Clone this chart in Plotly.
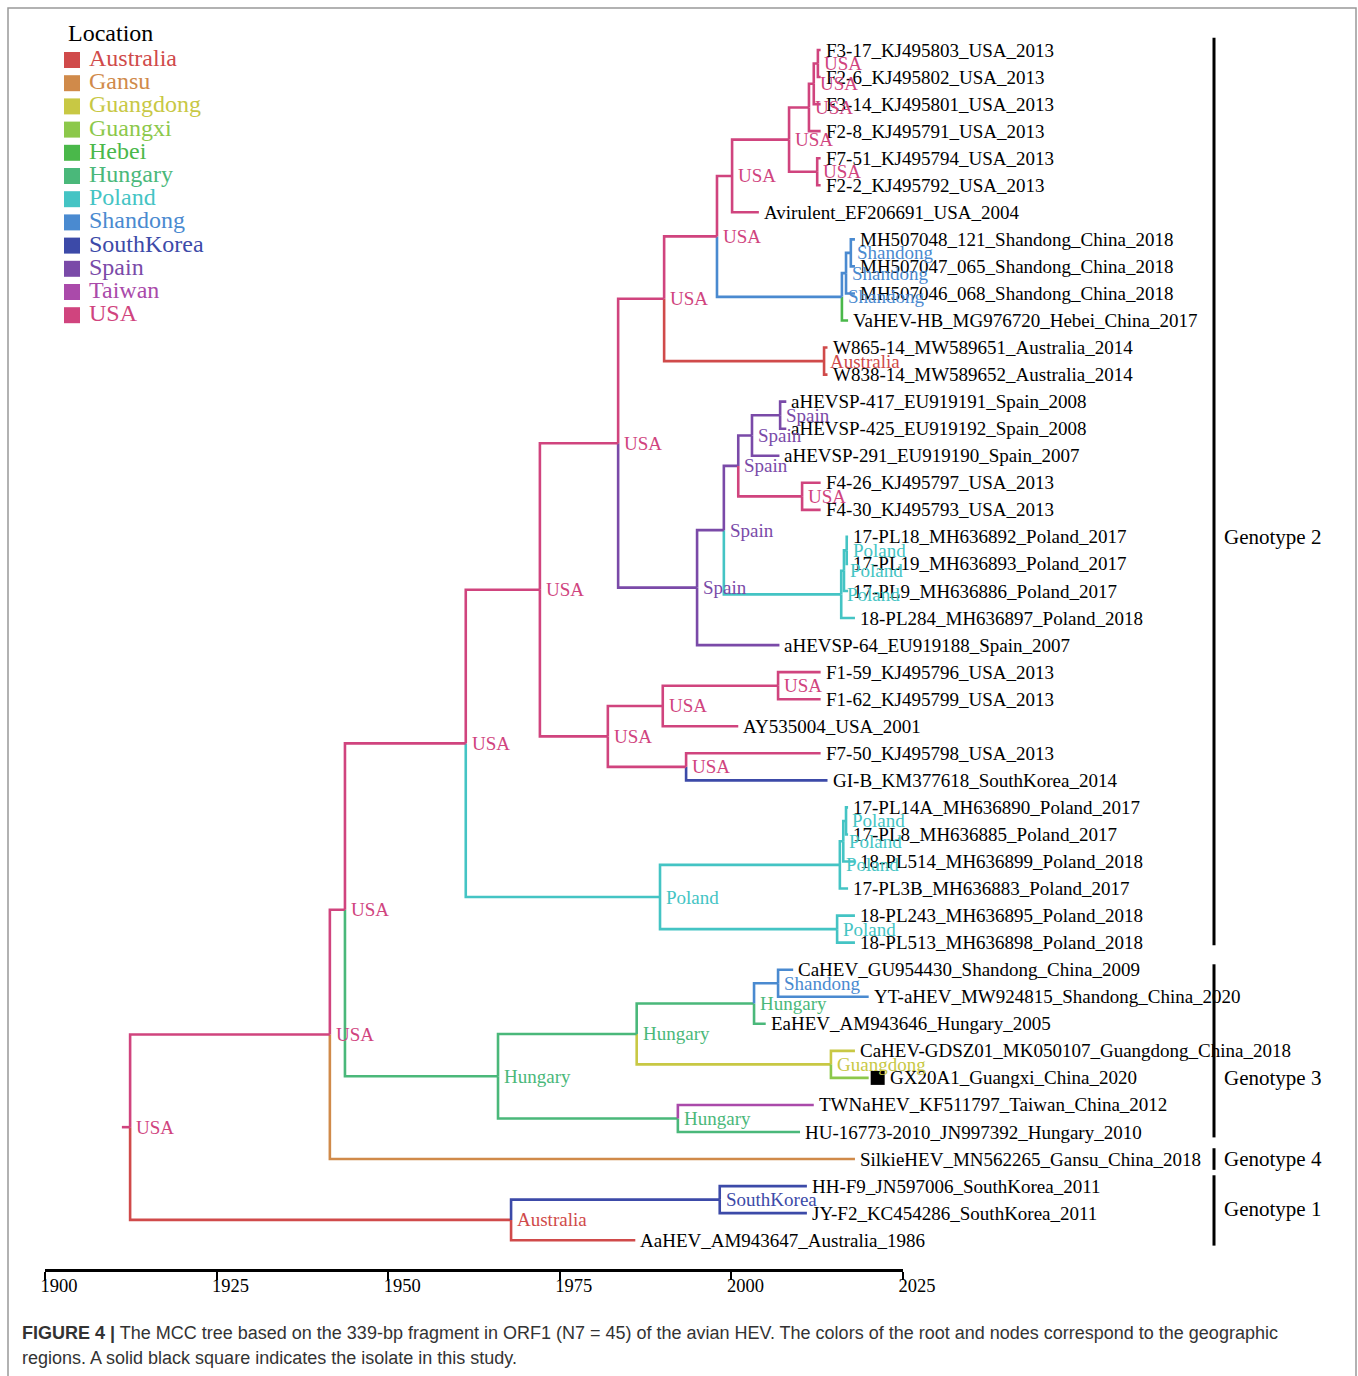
import plotly.graph_objects as go

W, H = 1358, 1376

# ---------------- data ----------------
locations = ["Australia", "Gansu", "Guangdong", "Guangxi", "Hebei", "Hungary",
             "Poland", "Shandong", "SouthKorea", "Spain", "Taiwan", "USA"]
location_colors = ["#d04a4a", "#d08a4a", "#c8c844", "#8cc84a", "#4ab84a", "#4ab87a",
                   "#44c4c4", "#4a8ad0", "#3c4aa8", "#7a4aa8", "#aa4aaa", "#d0447e"]

leaf_names = [
    "F3-17_KJ495803_USA_2013", "F2-6_KJ495802_USA_2013", "F3-14_KJ495801_USA_2013",
    "F2-8_KJ495791_USA_2013", "F7-51_KJ495794_USA_2013", "F2-2_KJ495792_USA_2013",
    "Avirulent_EF206691_USA_2004", "MH507048_121_Shandong_China_2018",
    "MH507047_065_Shandong_China_2018", "MH507046_068_Shandong_China_2018",
    "VaHEV-HB_MG976720_Hebei_China_2017", "W865-14_MW589651_Australia_2014",
    "W838-14_MW589652_Australia_2014", "aHEVSP-417_EU919191_Spain_2008",
    "aHEVSP-425_EU919192_Spain_2008", "aHEVSP-291_EU919190_Spain_2007",
    "F4-26_KJ495797_USA_2013", "F4-30_KJ495793_USA_2013",
    "17-PL18_MH636892_Poland_2017", "17-PL19_MH636893_Poland_2017",
    "17-PL9_MH636886_Poland_2017", "18-PL284_MH636897_Poland_2018",
    "aHEVSP-64_EU919188_Spain_2007", "F1-59_KJ495796_USA_2013", "F1-62_KJ495799_USA_2013",
    "AY535004_USA_2001", "F7-50_KJ495798_USA_2013", "GI-B_KM377618_SouthKorea_2014",
    "17-PL14A_MH636890_Poland_2017", "17-PL8_MH636885_Poland_2017",
    "18-PL514_MH636899_Poland_2018", "17-PL3B_MH636883_Poland_2017",
    "18-PL243_MH636895_Poland_2018", "18-PL513_MH636898_Poland_2018",
    "CaHEV_GU954430_Shandong_China_2009", "YT-aHEV_MW924815_Shandong_China_2020",
    "EaHEV_AM943646_Hungary_2005", "CaHEV-GDSZ01_MK050107_Guangdong_China_2018",
    "GX20A1_Guangxi_China_2020", "TWNaHEV_KF511797_Taiwan_China_2012",
    "HU-16773-2010_JN997392_Hungary_2010", "SilkieHEV_MN562265_Gansu_China_2018",
    "HH-F9_JN597006_SouthKorea_2011", "JY-F2_KC454286_SouthKorea_2011",
    "AaHEV_AM943647_Australia_1986"]
leaf_years = [2013, 2013, 2013, 2013, 2013, 2013, 2004, 2018, 2018, 2018, 2017, 2014, 2014,
              2008, 2008, 2007, 2013, 2013, 2017, 2017, 2017, 2018, 2007, 2013, 2013, 2001,
              2013, 2014, 2017, 2017, 2018, 2017, 2018, 2018, 2009, 2020, 2005, 2018, 2020,
              2012, 2010, 2018, 2011, 2011, 1986]
leaf_locs = ["USA"] * 7 + ["Shandong"] * 3 + ["Hebei"] + ["Australia"] * 2 + ["Spain"] * 3 + \
            ["USA"] * 2 + ["Poland"] * 4 + ["Spain"] + ["USA"] * 4 + ["SouthKorea"] + \
            ["Poland"] * 6 + ["Shandong"] * 2 + ["Hungary", "Guangdong", "Guangxi", "Taiwan",
                                                 "Hungary", "Gansu", "SouthKorea", "SouthKorea",
                                                 "Australia"]
leaf_parents = ["N01", "N01", "N012", "N0123", "K", "K", "H2", "Sh3", "Sh3", "Sh2", "Sh",
                "Aus2", "Aus2", "S4", "S4", "S3", "U2", "U2", "PL3", "PL3", "PL2", "PL1", "S",
                "U1a", "U1a", "U1", "U3", "U3", "P1b", "P1b", "P1a", "P1", "P2", "P2", "Sd",
                "Sd", "Hb", "Gd", "Gd", "H5", "H5", "A", "SK", "SK", "G1"]

node_ids = ["root", "A", "G1", "SK", "B", "C", "H", "H1", "H5", "Hb", "Sd", "Gd", "D", "P",
            "P1", "P1a", "P1b", "P2", "E", "U", "U1", "U1a", "U3", "F", "S", "S1", "S2", "S3",
            "S4", "U2", "PL1", "PL2", "PL3", "G", "Aus2", "H2", "Sh", "Sh2", "Sh3", "I",
            "N0123", "N012", "N01", "K"]
node_parents = [None, "root", "root", "G1", "A", "B", "B", "H", "H", "H1", "Hb", "H1", "C",
                "C", "P", "P1", "P1a", "P", "D", "D", "U", "U1", "U", "E", "E", "S", "S1",
                "S2", "S3", "S2", "S1", "PL1", "PL2", "F", "F", "G", "G", "Sh", "Sh2", "H2",
                "I", "N0123", "N012", "I"]
node_years = [1912.4, 1941.5, 1967.9, 1998.3, 1943.7, 1961.3, 1966.0, 1986.2, 1992.2, 2003.3,
              2006.8, 2014.5, 1972.1, 1989.6, 2015.8, 2016.3, 2016.7, 2015.4, 1983.5, 1982.0,
              1990.0, 2006.8, 1993.4, 1990.2, 1995.0, 1998.9, 2001.0, 2003.0, 2007.1, 2010.3,
              2016.0, 2016.4, 2016.8, 1997.9, 2013.5, 2000.1, 2016.1, 2016.7, 2017.4, 2008.4,
              2011.3, 2012.0, 2012.6, 2012.5]
node_locs = ["USA", "USA", "Australia", "SouthKorea", "USA", "USA", "Hungary", "Hungary",
             "Hungary", "Hungary", "Shandong", "Guangdong", "USA", "Poland", "Poland", "Poland",
             "Poland", "Poland", "USA", "USA", "USA", "USA", "USA", "USA", "Spain", "Spain",
             "Spain", "Spain", "Spain", "USA", "Poland", "Poland", "Poland", "USA", "Australia",
             "USA", "Shandong", "Shandong", "Shandong", "USA", "USA", "USA", "USA", "USA"]
root_stub_year = 1911.2

study_isolate = "GX20A1_Guangxi_China_2020"

genotype_labels = ["Genotype 2", "Genotype 3", "Genotype 4", "Genotype 1"]
genotype_first_leaf = [0, 34, 41, 42]
genotype_last_leaf = [33, 40, 41, 44]

axis_ticks = [1900, 1925, 1950, 1975, 2000, 2025]

caption_line1 = ("<b>FIGURE 4 |</b> The MCC tree based on the 339-bp fragment in ORF1 (N7 = 45) "
                 "of the avian HEV. The colors of the root and nodes correspond to the geographic")
caption_line2 = "regions. A solid black square indicates the isolate in this study."

# ---------------- layout constants ----------------
PX_PER_YEAR = 6.864
AXIS_X0_PX = 45          # pixel of year 1900
ROW_PX = 27.05
FIRST_ROW_PX = 50
SERIF = "Liberation Serif, Times New Roman, serif"
SANS = "Liberation Sans, Arial, sans-serif"

color_of = dict(zip(locations, location_colors))

# ---------------- tree geometry ----------------
children = {nid: [] for nid in node_ids}
for i, p in enumerate(leaf_parents):
    children[p].append(("leaf", i))
for nid, p in zip(node_ids, node_parents):
    if p is not None:
        children[p].append(("node", nid))

node_year = dict(zip(node_ids, node_years))
node_loc = dict(zip(node_ids, node_locs))
node_parent = dict(zip(node_ids, node_parents))
node_y = {}


def y_of(kind, key):
    if kind == "leaf":
        return float(key)
    if key not in node_y:
        ys = [y_of(k, c) for k, c in children[key]]
        node_y[key] = (min(ys) + max(ys)) / 2.0
    return node_y[key]


for nid in node_ids:
    y_of("node", nid)

segs = {loc: ([], []) for loc in locations}


def add_branch(loc, px, py, cx, cy):
    xs, ys = segs[loc]
    xs += [px, px, cx, None]
    ys += [py, cy, cy, None]


for nid in node_ids:
    p = node_parent[nid]
    if p is None:
        continue
    add_branch(node_loc[nid], node_year[p], node_y[p], node_year[nid], node_y[nid])
for i, p in enumerate(leaf_parents):
    add_branch(leaf_locs[i], node_year[p], node_y[p], leaf_years[i], float(i))
# root stub
segs[node_loc["root"]][0].extend([root_stub_year, node_year["root"], None])
segs[node_loc["root"]][1].extend([node_y["root"], node_y["root"], None])

fig = go.Figure()
for loc in locations:
    xs, ys = segs[loc]
    if not xs:
        continue
    fig.add_trace(go.Scatter(x=xs, y=ys, mode="lines",
                             line=dict(color=color_of[loc], width=2.6),
                             hoverinfo="skip", showlegend=False))

# study isolate square
si = leaf_names.index(study_isolate)
fig.add_trace(go.Scatter(x=[leaf_years[si] + 9 / PX_PER_YEAR], y=[si], mode="markers",
                         marker=dict(symbol="square", size=14, color="black"),
                         hoverinfo="skip", showlegend=False))

# invisible trace to carry the time axis
fig.add_trace(go.Scatter(x=axis_ticks, y=[None] * len(axis_ticks), xaxis="x2", yaxis="y",
                         mode="markers", marker=dict(opacity=0), hoverinfo="skip",
                         showlegend=False))

ann = []
# leaf labels
for i, name in enumerate(leaf_names):
    ann.append(dict(x=leaf_years[i], y=i, xref="x", yref="y", text=name, showarrow=False,
                    xanchor="left", yanchor="middle", xshift=(19 if i == si else 3),
                    font=dict(family=SERIF, size=19, color="black")))
# node labels
for nid in node_ids:
    ann.append(dict(x=node_year[nid], y=node_y[nid], xref="x", yref="y", text=node_loc[nid],
                    showarrow=False, xanchor="left", yanchor="middle", xshift=4,
                    font=dict(family=SERIF, size=19, color=color_of[node_loc[nid]])))

shapes = []
# genotype bars
bar_x = 1214 / W
ext_top = [0.45, 0.2, 0.4, 0.4]
ext_bot = [0.1, 0.2, 0.4, 0.2]
label_y = [18, 38, 41, 42.85]
for k, g in enumerate(genotype_labels):
    shapes.append(dict(type="line", xref="paper", yref="y", x0=bar_x, x1=bar_x,
                       y0=genotype_first_leaf[k] - ext_top[k],
                       y1=genotype_last_leaf[k] + ext_bot[k],
                       line=dict(color="black", width=3)))
    ann.append(dict(x=1222 / W, y=label_y[k], xref="paper", yref="y", text=g, showarrow=False,
                    xanchor="left", yanchor="middle",
                    font=dict(family=SERIF, size=21, color="black")))

# legend
ann.append(dict(x=66 / W, y=1 - 33 / H, xref="paper", yref="paper", text="Location",
                showarrow=False, xanchor="left", yanchor="middle",
                font=dict(family=SERIF, size=24, color="black")))
for k, loc in enumerate(locations):
    cy = 60 + k * 23.2
    shapes.append(dict(type="rect", xref="paper", yref="paper", x0=64 / W, x1=80 / W,
                       y0=1 - (cy - 8) / H, y1=1 - (cy + 8) / H,
                       fillcolor=color_of[loc], line=dict(width=0)))
    ann.append(dict(x=87 / W, y=1 - (cy - 2) / H, xref="paper", yref="paper", text=loc,
                    showarrow=False, xanchor="left", yanchor="middle",
                    font=dict(family=SERIF, size=24, color=color_of[loc])))

# caption
ann.append(dict(x=20 / W, y=1 - 1333 / H, xref="paper", yref="paper", text=caption_line1,
                showarrow=False, xanchor="left", yanchor="middle",
                font=dict(family=SANS, size=18, color="#333333")))
ann.append(dict(x=20 / W, y=1 - 1358 / H, xref="paper", yref="paper", text=caption_line2,
                showarrow=False, xanchor="left", yanchor="middle",
                font=dict(family=SANS, size=18, color="#333333")))

# frame
shapes.append(dict(type="rect", xref="paper", yref="paper", x0=8 / W, x1=1356 / W,
                   y0=1 - 8 / H, y1=-0.02, line=dict(color="#999999", width=1.5),
                   layer="below"))

x0_year = 1900 - AXIS_X0_PX / PX_PER_YEAR
x1_year = 1900 + (W - AXIS_X0_PX) / PX_PER_YEAR
y_top = -FIRST_ROW_PX / ROW_PX
y_bot = (H - FIRST_ROW_PX) / ROW_PX
axis_px = 1270
span = axis_ticks[-1] - axis_ticks[0]

fig.update_layout(
    width=W, height=H, margin=dict(l=0, r=0, t=0, b=0, autoexpand=False), autosize=False,
    paper_bgcolor="white", plot_bgcolor="rgba(0,0,0,0)",
    xaxis=dict(range=[x0_year, x1_year], visible=False, fixedrange=True, automargin=False),
    yaxis=dict(range=[y_bot, y_top], visible=False, fixedrange=True, automargin=False),
    xaxis2=dict(range=[axis_ticks[0], axis_ticks[-1]],
                domain=[AXIS_X0_PX / W, (AXIS_X0_PX + span * PX_PER_YEAR) / W],
                anchor="free", position=1 - axis_px / H, side="bottom", automargin=False,
                showline=True, linecolor="black", linewidth=2.5,
                ticks="outside", ticklen=8, tickwidth=2, tickcolor="black",
                tickvals=axis_ticks, ticktext=[str(t) for t in axis_ticks],
                tickfont=dict(family=SERIF, size=18.5, color="black"),
                ticklabelshift=14, ticklabelstandoff=-10,
                showgrid=False, zeroline=False, fixedrange=True),
    annotations=ann, shapes=shapes, showlegend=False,
)

fig.write_html("out.html", config={"responsive": False, "displayModeBar": False},
               post_script="document.body.style.margin='0';document.body.style.overflow='hidden';")
